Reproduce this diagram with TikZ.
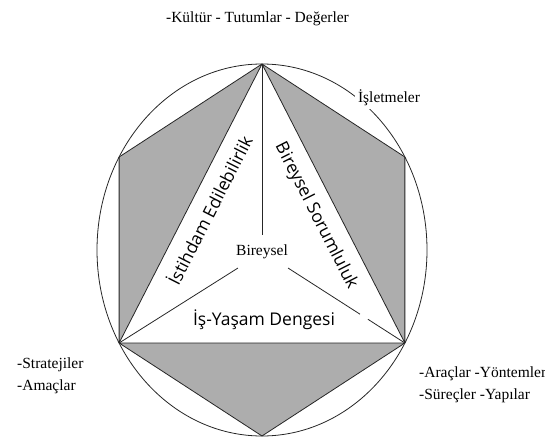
\documentclass[tikz,border=0pt]{standalone}
\usepackage{fontspec}
\setmainfont{Liberation Serif}
\newfontfamily\labelsans{Open Sans}
\usetikzlibrary{calc}

\tikzset{
    shade region/.style={fill=black!32, draw=black!85, line width=0.8pt, line join=round},
    edge line/.style={draw=black!85, line width=0.8pt},
    serif label/.style={font=\fontsize{15.5}{18}\selectfont, inner sep=1pt},
    sans label/.style={font=\labelsans\fontsize{17.5}{21}\selectfont, inner sep=1pt},
}

\begin{document}
\begin{tikzpicture}[x=1pt, y=1pt]
    \useasboundingbox (-262,-189) rectangle (283,250);

    % Coordinates
    \coordinate (C)  at (0,0);               % centre of the ellipse
    \coordinate (T)  at (90:165 and 186);    % top
    \coordinate (UR) at (30:165 and 186);    % upper right
    \coordinate (LR) at (-30:165 and 186);   % lower right
    \coordinate (B)  at (-90:165 and 186);   % bottom
    \coordinate (LL) at (210:165 and 186);   % lower left
    \coordinate (UL) at (150:165 and 186);   % upper left
    \coordinate (V)  at (0,15);              % end of the middle stroke
    \coordinate (BL) at (-24,-18);           % start of the left stroke
    \coordinate (BR) at (26,-18);            % start of the right stroke

    % 1. Grey regions between triangle and hexagon
    \filldraw[shade region] (T) -- (UL) -- (LL) -- cycle;
    \filldraw[shade region] (T) -- (UR) -- (LR) -- cycle;
    \filldraw[shade region] (LL) -- (B) -- (LR) -- cycle;

    % 2. Outer ellipse
    \draw[edge line] (C) ellipse [x radius=165pt, y radius=186pt];

    % 3. Inner strokes round the centre
    \draw[edge line] (T) -- (V);
    \draw[edge line] (BL) -- (LL);
    \draw[edge line] (BR) -- ($(BR)!0.616!(LR)$);
    \draw[edge line] ($(BR)!0.684!(LR)$) -- (LR);

    % 4. Labels inside
    \node[serif label] (bir) at (0,-2) {Bireysel};
    \node[sans label, rotate=63] (ist) at (-53,40) {İstihdam Edilebilirlik};
    \node[sans label, rotate=-63] (sor) at (54,34) {Bireysel Sorumluluk};
    \node[sans label] (dng) at (2,-70) {İş-Yaşam Dengesi};

    % 5. Labels outside
    \node[serif label, anchor=base] (kul) at (-4.5,227) {-Kültür - Tutumlar - Değerler};
    \node[serif label, fill=white, inner sep=3pt] (isl) at (127,152) {İşletmeler};
    \node[serif label, anchor=base west] (str) at (-246,-118) {-Stratejiler};
    \node[serif label, anchor=base west] (ama) at (-246,-140) {-Amaçlar};
    \node[serif label, anchor=base west] (ara) at (156,-127) {-Araçlar -Yöntemler};
    \node[serif label, anchor=base west] (sur) at (156,-149) {-Süreçler -Yapılar};

\end{tikzpicture}
\end{document}
